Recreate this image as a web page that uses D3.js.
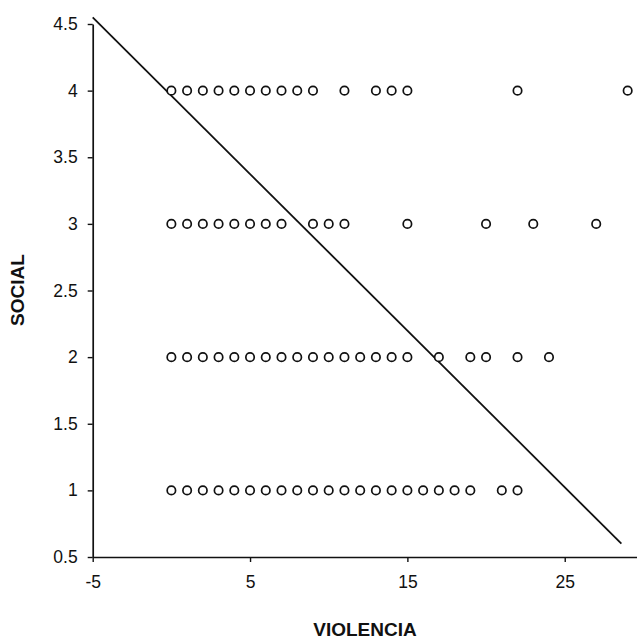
<!DOCTYPE html>
<html>
<head>
<meta charset="utf-8">
<script src="https://cdn.jsdelivr.net/npm/d3@7"></script>
<style>
  html, body { margin: 0; padding: 0; background: #fff; }
  svg { display: block; }
  text { font-family: "Liberation Sans", Arial, sans-serif; fill: #111; }
</style>
</head>
<body>
<svg id="chart" width="637" height="641"></svg>
<script>
// VIOLENCIA scores observed at each SOCIAL level
const violenciaSocial4 = [0, 1, 2, 3, 4, 5, 6, 7, 8, 9, 11, 13, 14, 15, 22, 29];
const violenciaSocial3 = [0, 1, 2, 3, 4, 5, 6, 7, 9, 10, 11, 15, 20, 23, 27];
const violenciaSocial2 = [0, 1, 2, 3, 4, 5, 6, 7, 8, 9, 10, 11, 12, 13, 14, 15, 17, 19, 20, 22, 24];
const violenciaSocial1 = [0, 1, 2, 3, 4, 5, 6, 7, 8, 9, 10, 11, 12, 13, 14, 15, 16, 17, 18, 19, 21, 22];
const socialLevels = [4, 3, 2, 1];

// Fitted trend line end points
const trendX = [-5, 28.6];
const trendY = [4.55, 0.6];

// Axis ticks
const xTicks = [-5, 5, 15, 25];
const yTicks = [0.5, 1, 1.5, 2, 2.5, 3, 3.5, 4, 4.5];

const svg = d3.select("#chart");

const x = d3.scaleLinear().domain([-5, 30]).range([92.7, 643.4]);
const y = d3.scaleLinear().domain([0.5, 4.5]).range([557, 24]);

const points = [];
[violenciaSocial4, violenciaSocial3, violenciaSocial2, violenciaSocial1].forEach((xs, i) => {
  xs.forEach(v => points.push({ x: v, y: socialLevels[i] }));
});

// Axes (plain hyphen for negatives)
const xAxis = d3.axisBottom(x).tickValues(xTicks).tickSize(5).tickSizeOuter(0).tickPadding(14).tickFormat(d => String(d));
const yAxis = d3.axisLeft(y).tickValues(yTicks).tickSize(5).tickSizeOuter(0).tickPadding(10).tickFormat(d => String(d));

const gx = svg.append("g").attr("transform", `translate(0,${y(0.5)})`).call(xAxis);
const gy = svg.append("g").attr("transform", `translate(${x(-5)},0)`).call(yAxis);

[gx, gy].forEach(g => {
  g.select(".domain").attr("stroke", "#111").attr("stroke-width", 1.7);
  g.selectAll(".tick line").attr("stroke", "#111").attr("stroke-width", 1.4);
  g.selectAll(".tick text").attr("font-size", 17.5).attr("font-family", "Liberation Sans, Arial, sans-serif").attr("fill", "#111");
});

// Trend line
svg.append("line")
  .attr("x1", x(trendX[0])).attr("y1", y(trendY[0]))
  .attr("x2", x(trendX[1])).attr("y2", y(trendY[1]))
  .attr("stroke", "#111").attr("stroke-width", 1.8);

// Observations
svg.append("g").selectAll("circle").data(points).join("circle")
  .attr("cx", d => x(d.x))
  .attr("cy", d => y(d.y))
  .attr("r", 4.2)
  .attr("fill", "#fff")
  .attr("stroke", "#111")
  .attr("stroke-width", 1.7);

// Axis titles
svg.append("text")
  .attr("x", 365).attr("y", 636)
  .attr("text-anchor", "middle")
  .attr("font-size", 19)
  .attr("font-weight", "bold")
  .text("VIOLENCIA");

svg.append("text")
  .attr("transform", "translate(24,290) rotate(-90)")
  .attr("text-anchor", "middle")
  .attr("font-size", 19)
  .attr("font-weight", "bold")
  .text("SOCIAL");
</script>
</body>
</html>
